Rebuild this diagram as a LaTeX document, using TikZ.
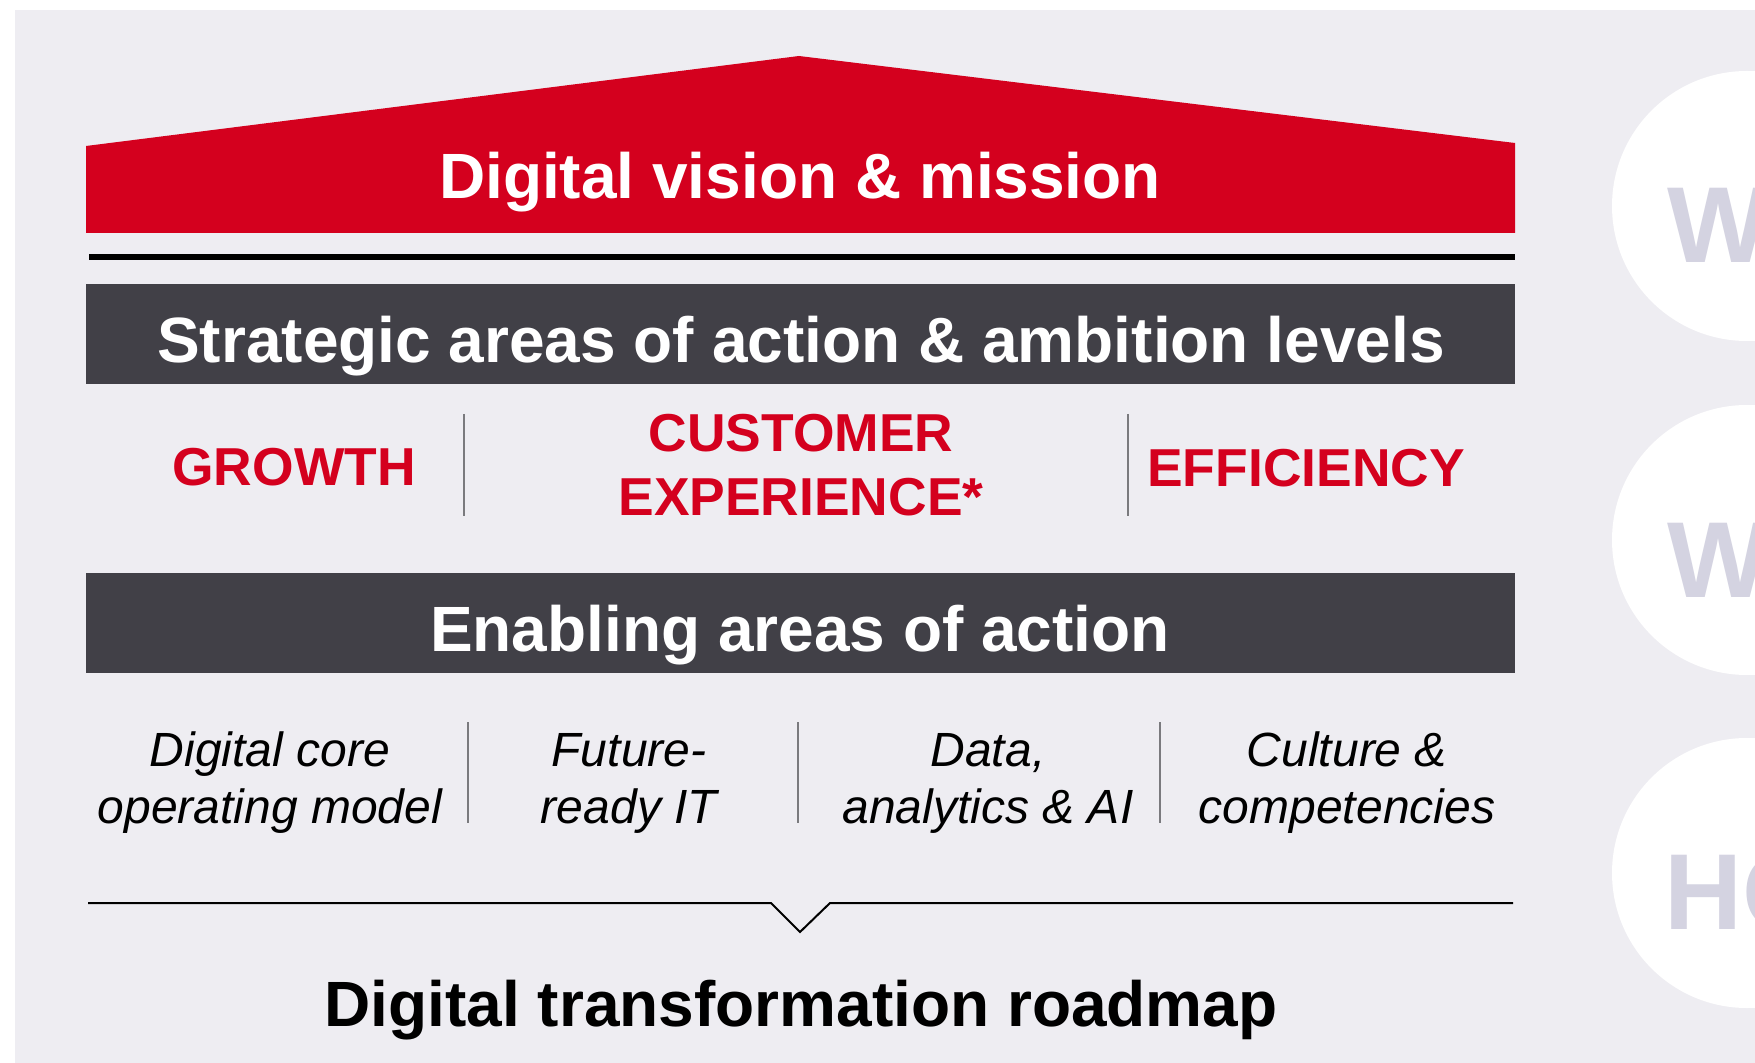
\documentclass[tikz,border=0pt]{standalone}
\usepackage{fontspec}
\setmainfont{Liberation Sans}
\usepackage{tikz}
\definecolor{roofred}{HTML}{D4001E}
\definecolor{bardark}{HTML}{414047}
\definecolor{panel}{HTML}{EEEDF2}
\definecolor{ghost}{HTML}{D4D3E1}
\definecolor{sepgray}{HTML}{7A7A7E}
\tikzset{
  >=latex,
}
\tikzstyle{bar}=[fill=bardark]
\tikzstyle{bartext}=[text=white,inner sep=0,font=\bfseries\fontsize{32}{40}\selectfont]
\tikzstyle{area}=[text=roofred,inner sep=0,align=center,font=\bfseries\fontsize{26.7}{32}\selectfont]
\tikzstyle{enabler}=[inner sep=0,align=center,font=\itshape\fontsize{24}{28.5}\selectfont]
\tikzstyle{sep}=[sepgray,line width=1pt]
\tikzstyle{ghosttext}=[text=ghost,inner sep=0,anchor=base west,font=\bfseries\fontsize{54}{60}\selectfont]

\begin{document}
\begin{tikzpicture}[x=0.5pt,y=-0.5pt]
    \clip (0,0) rectangle (1755,1063);
    \fill[white] (0,0) rectangle (1755,1063);
    \fill[panel] (15,10) rectangle (1755,1063);

    % question circles on the right
    \fill[white] (1747,206) circle (67.5pt);
    \fill[white] (1747,540) circle (67.5pt);
    \fill[white] (1747,873) circle (67.5pt);
    \node[ghosttext] (why) at (1667,263) {W};
    \node[ghosttext] (what) at (1667,597) {W};
    \node[ghosttext] (how) at (1664,929) {HO};

    % roof
    \fill[roofred] (86,233)--(86,146)--(799,56)--(1515,143)--(1515,233)--cycle;
    \node[bartext,anchor=base] (vision) at (800,199) {Digital vision \& mission};
    \draw[line width=3pt] (89,257)--(1515,257);

    \fill[bar] (86,284) rectangle (1515,384);
    \node[bartext,anchor=base] (strategic) at (801,363) {Strategic areas of action \& ambition levels};

    \node[area,anchor=base] (growth) at (294,486) {GROWTH};
    \node[area] (customer) at (801,465) {CUSTOMER\\EXPERIENCE*};
    \node[area,anchor=base] (efficiency) at (1306,487) {EFFICIENCY};
    \draw[sep] (464,414)--(464,516);
    \draw[sep] (1128,414)--(1128,516);

    \fill[bar] (86,573) rectangle (1515,673);
    \node[bartext,anchor=base] (enabling) at (800,651) {Enabling areas of action};

    \node[enabler] (core) at (270,783) {Digital core\\operating model};
    \node[enabler] (it) at (629,783) {Future-\\ready IT};
    \node[enabler] (data) at (988,783) {Data,\\analytics \& AI};
    \node[enabler] (culture) at (1347,783) {Culture \&\\competencies};
    \draw[sep] (468,722)--(468,823);
    \draw[sep] (798,722)--(798,823);
    \draw[sep] (1160,722)--(1160,823);

    % roadmap bracket
    \draw[line width=1pt] (88,903)--(771,903)--(800,932)--(830,903)--(1513,903);
    \node[anchor=base,inner sep=0,font=\bfseries\fontsize{32}{36}\selectfont] (roadmap) at (801,1026) {Digital transformation roadmap};
\end{tikzpicture}
\end{document}
